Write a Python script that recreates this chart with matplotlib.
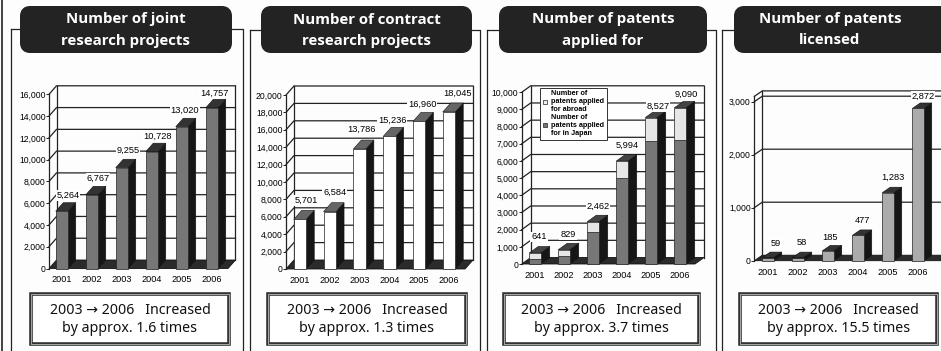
import matplotlib
matplotlib.use("Agg")
import matplotlib.pyplot as plt
from matplotlib.patches import FancyBboxPatch, Polygon, Rectangle

W, H = 941, 351
TITLE_FONT = ["Open Sans", "DejaVu Sans"]
NOTE_FONT = ["Noto Sans", "DejaVu Sans"]

years = ["2001", "2002", "2003", "2004", "2005", "2006"]

joint_projects = [5264, 6767, 9255, 10728, 13020, 14757]
joint_ticks = [0, 2000, 4000, 6000, 8000, 10000, 12000, 14000, 16000]

contract_projects = [5701, 6584, 13786, 15236, 16960, 18045]
contract_ticks = [0, 2000, 4000, 6000, 8000, 10000, 12000, 14000, 16000, 18000, 20000]

patents_total = [641, 829, 2462, 5994, 8527, 9090]
patents_japan = [300, 450, 1850, 5000, 7150, 7200]
patents_ticks = [0, 1000, 2000, 3000, 4000, 5000, 6000, 7000, 8000, 9000, 10000]

licensed = [59, 58, 185, 477, 1283, 2872]
licensed_ticks = [0, 1000, 2000, 3000]


def px(fig_ax, x0, y0, x1, y1):
    # figure axes from pixel corners (y counted from the top)
    return fig_ax.add_axes([x0 / W, 1 - y0 / H, (x1 - x0) / W, (y0 - y1) / H])


def draw_panel(fig, p):
    vals = p["values"]
    ymax = p["ticks"][-1]
    scale = (p["y0"] - p["ytop"]) / ymax
    ax = px(fig, p["xleft"], p["y0"], p["xright"], p["ytop"])
    ax.patch.set_alpha(0)
    ax.set_xlim((p["xleft"] - p["c0"]) / p["step"], (p["xright"] - p["c0"]) / p["step"])
    ax.set_ylim(0, ymax)
    xa, xb = ax.get_xlim()
    ddx = p["dx"] / p["step"]
    ddy = p["dy"] / scale
    half = p["bw"] / p["step"] / 2

    # floor and walls
    ax.add_patch(Polygon([(xa, 0), (xb, 0), (xb + ddx, ddy), (xa + ddx, ddy)],
                         fc="#2b2b2b", ec="#111111", lw=0.6, zorder=1, clip_on=False))
    top = p.get("wall_top", ymax)
    for t in p["ticks"][1:]:
        ax.plot([xa, xa + ddx, xb + ddx], [t, t + ddy, t + ddy], color="#222222",
                lw=0.9, zorder=1, clip_on=False)
    ax.plot([xa + ddx, xa + ddx], [ddy, top + ddy], color="#222222", lw=0.9, zorder=1, clip_on=False)
    ax.plot([xb + ddx, xb + ddx], [ddy, top + ddy], color="#222222", lw=0.9, zorder=1, clip_on=False)
    if top != ymax:
        ax.plot([xa, xa + ddx, xb + ddx], [top, top + ddy, top + ddy], color="#222222",
                lw=0.9, zorder=1, clip_on=False)
        ax.plot([xa, xa], [ymax, top], color="#222222", lw=0.9, zorder=1, clip_on=False)

    # bars with their depth faces
    for i, v in enumerate(vals):
        z = 3 + i
        ax.add_patch(Polygon([(i + half, 0), (i + half + ddx, ddy), (i + half + ddx, v + ddy), (i + half, v)],
                             fc="#161616", ec="#111111", lw=0.4, zorder=z, clip_on=False))
        ax.add_patch(Polygon([(i - half, v), (i + half, v), (i + half + ddx, v + ddy), (i - half + ddx, v + ddy)],
                             fc=p["top"], ec="#111111", lw=0.4, zorder=z, clip_on=False))
        if p.get("lower"):
            low = p["lower"][i]
            ax.bar(i, low, width=2 * half, color=p["face"], edgecolor="#222222", lw=0.5, zorder=z, clip_on=False)
            ax.bar(i, v - low, bottom=low, width=2 * half, color=p["upper_face"], edgecolor="#222222",
                   lw=0.5, zorder=z, clip_on=False)
        else:
            ax.bar(i, v, width=2 * half, color=p["face"], edgecolor="#222222", lw=0.5, zorder=z, clip_on=False)
        nx, ny = p["nudge"][i]
        ax.annotate(f"{v:,}", (i, v), xytext=(nx * 0.72, ny * 0.72), textcoords="offset points",
                    ha="center", va="center", fontsize=6.7, family="Liberation Sans", color="#000000",
                    zorder=20, annotation_clip=False,
                    bbox=dict(fc="white", ec="none", pad=0.6))

    for s in ["top", "right", "bottom"]:
        ax.spines[s].set_visible(False)
    ax.spines["left"].set_linewidth(0.9)
    ax.spines["left"].set_color("#222222")
    ax.set_yticks(p["ticks"])
    ax.set_yticklabels([f"{t:,}" for t in p["ticks"]], fontsize=6.2, family="Liberation Sans",
                       color="#000000")
    ax.tick_params(axis="y", length=2, width=0.7, pad=0.5, color="#222222")
    ax.set_xticks(range(len(years)))
    ax.set_xticklabels(years, fontsize=6.6, family="Liberation Sans", color="#000000")
    ax.tick_params(axis="x", length=0, pad=5)
    return ax


def draw_sheet(bg, s):
    # outline behind each panel, then title plate and note box
    bg.plot([s["fl"], s["fl"]], [H, s["fy"]], color="#222222", lw=0.9)
    bg.plot([s["fl"], s["fr"], s["fr"]], [s["fy"], s["fy"], H], color="#222222", lw=0.9)
    x0, x1 = s["tx"]
    bg.add_patch(FancyBboxPatch((x0 + 5, 11), x1 - x0 - 10, 37, boxstyle="round,pad=0,rounding_size=5",
                                mutation_aspect=1, fc="#232323", ec="#232323", lw=10 * 0.72, zorder=3,
                                joinstyle="round"))
    bg.text((x0 + x1) / 2 + s.get("tshift", 0), 19.5, s["title"][0], color="white", fontsize=10.8, weight="bold",
            family=TITLE_FONT, ha="center", va="center", zorder=4)
    bg.text((x0 + x1) / 2 + s.get("tshift", 0), 40.5, s["title"][1], color="white", fontsize=10.8, weight="bold",
            family=TITLE_FONT, ha="center", va="center", zorder=4)
    x0, x1 = s["bx"]
    bg.add_patch(Rectangle((x0, 294), x1 - x0, 50, fc="white", ec="#333333", lw=2.6, zorder=3))
    bg.add_patch(Rectangle((x0, 294), x1 - x0, 50, fc="none", ec="#bbbbbb", lw=0.6, zorder=3))
    bg.text((x0 + x1) / 2, 319.5, s["note"], color="#111111", fontsize=10.2, weight="medium", family=NOTE_FONT,
            ha="center", va="center", linespacing=1.22, zorder=4)


fig = plt.figure(figsize=(W / 100, H / 100), dpi=100, facecolor="#fdfdfd")
bg = fig.add_axes([0, 0, 1, 1])
bg.set_xlim(0, W)
bg.set_ylim(H, 0)
bg.axis("off")
bg.plot([2, 2], [0, H], color="#222222", lw=1.2)

sheets = [
    dict(fl=11, fr=243, fy=29, tx=(20, 232), bx=(31, 229),
         title=("Number of joint", "research projects"),
         note="2003 \u2192 2006   Increased\nby approx. 1.6 times"),
    dict(fl=250, fr=480, fy=30, tx=(261, 472), bx=(268, 466),
         title=("Number of contract", "research projects"),
         note="2003 \u2192 2006   Increased\nby approx. 1.3 times"),
    dict(fl=487, fr=716, fy=30, tx=(499, 707), bx=(504, 699),
         title=("Number of patents", "applied for"),
         note="2003 \u2192 2006   Increased\nby approx. 3.7 times"),
    dict(fl=722, fr=990, fy=30, tx=(734, 990), bx=(740, 937), tshift=-32,
         title=("Number of patents", "licensed"),
         note="2003 \u2192 2006   Increased\nby approx. 15.5 times"),
]
for s in sheets:
    draw_sheet(bg, s)

panels = [
    dict(values=joint_projects, ticks=joint_ticks, xleft=49, xright=228, y0=268.5, ytop=94.3,
         c0=62, step=30, bw=12.5, dx=7.5, dy=8.5, face="#777777", top="#333333",
         nudge=[(6, 16), (6, 16.6), (6, 17.7), (5, 15), (3, 16), (2, 14.8)]),
    dict(values=contract_projects, ticks=contract_ticks, xleft=286, xright=465, y0=269, ytop=95,
         c0=300, step=29.8, bw=12.5, dx=8, dy=9, face="white", top="#666666",
         nudge=[(6, 19), (5, 19), (2, 20), (3, 16), (3, 17), (8, 19)]),
    dict(values=patents_total, lower=patents_japan, ticks=patents_ticks, xleft=521.7, xright=695, y0=264, ytop=92.3,
         c0=535, step=29, bw=11.5, dx=9, dy=6.5, face="#777777", upper_face="#e6e6e6", top="#444444",
         nudge=[(4, 16), (4, 15), (5, 15), (5, 16), (7, 11), (6, 14)]),
    dict(values=licensed, ticks=licensed_ticks, xleft=754.3, xright=990, y0=260.7, ytop=101.7,
         c0=768, step=30, bw=11.5, dx=8, dy=5.5, wall_top=3100, face="#ababab", top="#333333",
         nudge=[(8, 14), (4, 15), (2, 13), (4, 15), (5, 15), (5, 12)]),
]
axes = [draw_panel(fig, p) for p in panels]

# legend of the patent applications panel
handles = [Rectangle((0, 0), 1, 1, fc="#eeeeee", ec="#222222", lw=0.5),
           Rectangle((0, 0), 1, 1, fc="#777777", ec="#222222", lw=0.5)]
leg = axes[2].legend(handles, ["Number of\npatents applied\nfor abroad", "Number of\npatents applied\nfor in Japan"],
                     loc="upper left", bbox_to_anchor=(540 / W, 1 - 87.5 / H), bbox_transform=fig.transFigure,
                     prop={"family": "Liberation Sans", "size": 5.2, "weight": "bold"},
                     fancybox=False, framealpha=1, edgecolor="#333333", handlelength=0.6, handleheight=0.6,
                     handletextpad=0.5, labelspacing=0.05, borderpad=0.4, borderaxespad=0)
leg.get_frame().set_linewidth(0.7)
leg.set_zorder(30)

fig.savefig("out.png", dpi=100, facecolor=fig.get_facecolor())
